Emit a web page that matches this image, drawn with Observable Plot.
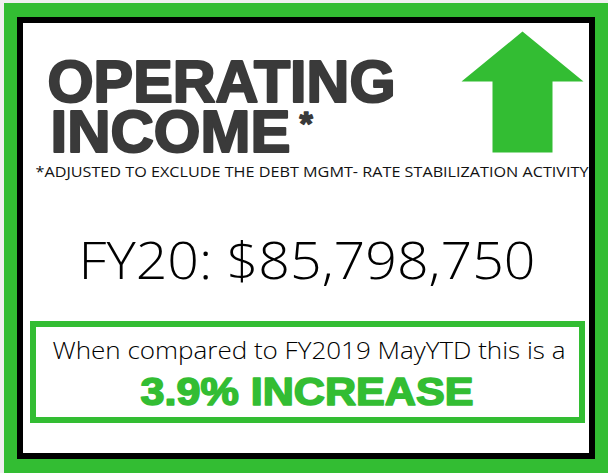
<!DOCTYPE html>
<html>
<head>
<meta charset="utf-8">
<script src="https://cdn.jsdelivr.net/npm/d3@7"></script>
<script src="https://cdn.jsdelivr.net/npm/@observablehq/plot@0.6"></script>
<style>
  html, body { margin: 0; padding: 0; background: #f0f0f0; }
  #chart svg { display: block; }
</style>
</head>
<body>
<div id="chart"></div>
<script>
// ---- data ----
const titleLines = ["OPERATING", "INCOME"];
const titleMark = ["*"];
const footnote = ["*ADJUSTED TO EXCLUDE THE DEBT MGMT- RATE STABILIZATION ACTIVITY"];
const fiscalYear = ["FY20"];
const operatingIncome = [85798750];
const comparisonLabel = ["When compared to FY2019 MayYTD this is a"];
const changePct = [3.9];
const changeLabel = ["INCREASE"];

// ---- layout / style ----
const W = 608, H = 473;
const green = "#33bd33";
const dark = "#3a3a3a";
const thin = "'Open Sans', 'DejaVu Sans', sans-serif";
const bold = "'Liberation Sans', Arial, sans-serif";

const frames = [
  {x1: 4, x2: W, y1: 3, y2: H, fill: green},
  {x1: 17, x2: 595, y1: 17, y2: 459, fill: "#000"},
  {x1: 23, x2: 589, y1: 23, y2: 453, fill: "#fff"}
];
const box = [{x1: 33, x2: 582, y1: 324, y2: 420}];
const arrow = [
  [522, 31], [583, 81], [552, 81], [552, 152], [492, 152], [492, 81], [461, 81], [522, 31]
];

const amountText = fiscalYear[0] + ": " + d3.format("$,")(operatingIncome[0]);
const changeText = changePct[0].toFixed(1) + "% " + changeLabel[0];

const titleSize = 60;
const titleLens = [348, 240];
const titleOffsets = [0, 3];

const texts = [
  {t: titleMark[0], x: 299, y: 134, len: 0, size: 34, font: bold, weight: 900, fill: dark, stroke: dark, sw: 1.5, cls: "t2"},
  {t: footnote[0], x: 35, y: 176, len: 553, size: 15, font: thin, weight: 400, fill: "#111", stroke: "none", sw: 0, cls: "t3"},
  {t: amountText, x: 78, y: 278, len: 457, size: 52, font: thin, weight: 300, fill: "#000", stroke: "none", sw: 0, cls: "t4"},
  {t: comparisonLabel[0], x: 52, y: 358, len: 513, size: 24, font: thin, weight: 300, fill: "#000", stroke: "none", sw: 0, cls: "t5"},
  {t: changeText, x: 140, y: 404, len: 333, size: 38, font: bold, weight: 700, fill: green, stroke: green, sw: 1.6, cls: "t6"}
];

const marks = [
  Plot.rect(frames, {x1: "x1", x2: "x2", y1: "y1", y2: "y2", fill: "fill"}),
  Plot.rect(box, {x1: "x1", x2: "x2", y1: "y1", y2: "y2", fill: "none", stroke: green, strokeWidth: 6}),
  Plot.line(arrow, {x: d => d[0], y: d => d[1], fill: green, stroke: "none", curve: "linear"}),
  Plot.text([titleLines.join("\n")], {
    x: 47, y: 151, text: d => d,
    textAnchor: "start", lineAnchor: "bottom", lineHeight: 50 / titleSize,
    fontSize: titleSize, fontFamily: bold, fontWeight: 900,
    fill: dark, stroke: dark, strokeWidth: 2.2, className: "title"
  })
];
for (const d of texts) {
  marks.push(Plot.text([d], {
    x: "x", y: "y", text: "t",
    textAnchor: "start", lineAnchor: "bottom",
    fontSize: d.size, fontFamily: d.font, fontWeight: d.weight,
    fill: d.fill, stroke: d.stroke, strokeWidth: d.sw,
    className: d.cls
  }));
}

const chart = Plot.plot({
  width: W, height: H, margin: 0,
  x: {domain: [0, W], axis: null},
  y: {domain: [H, 0], axis: null},
  style: {background: "transparent", overflow: "visible"},
  marks
});

for (const d of texts) {
  if (!d.len) continue;
  d3.select(chart).selectAll("." + d.cls + " text")
    .attr("textLength", d.len)
    .attr("lengthAdjust", "spacingAndGlyphs");
}
d3.select(chart).selectAll(".title tspan").each(function(_, i) {
  d3.select(this)
    .attr("x", titleOffsets[i])
    .attr("textLength", titleLens[i])
    .attr("lengthAdjust", "spacingAndGlyphs");
});
document.getElementById("chart").appendChild(chart);
</script>
</body>
</html>
